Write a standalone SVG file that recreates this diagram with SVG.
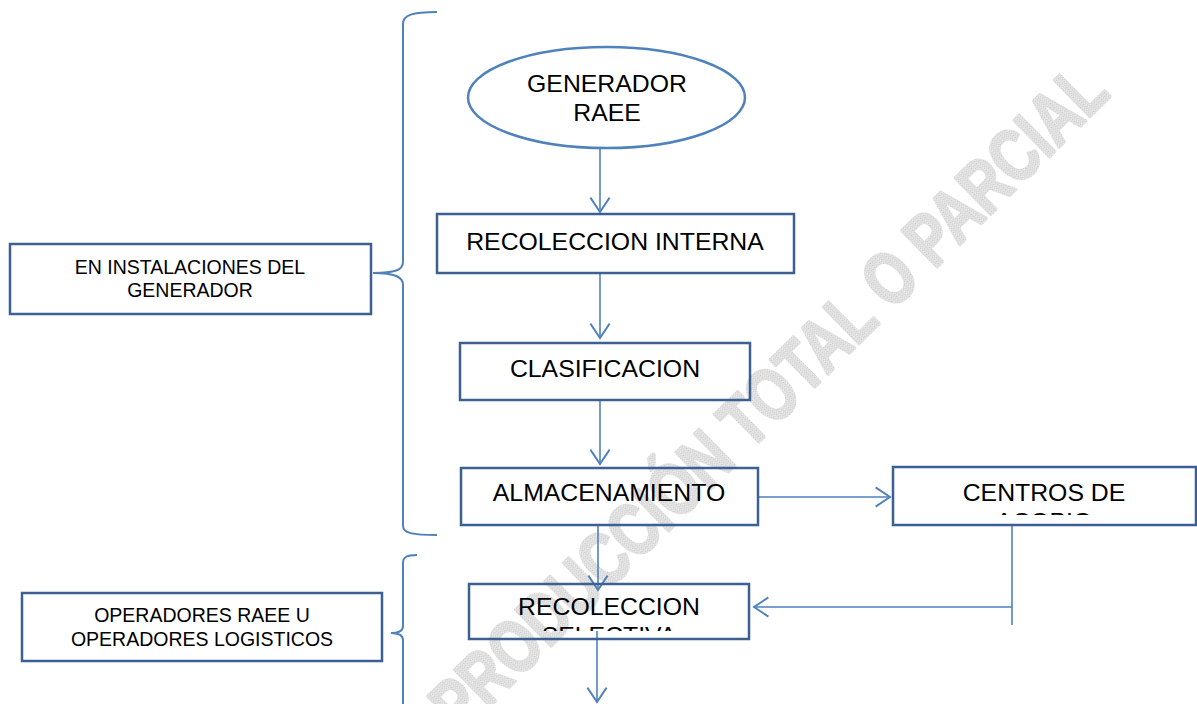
<svg xmlns="http://www.w3.org/2000/svg" width="1197" height="704" viewBox="0 0 1197 704">
  <style>
    .box { fill: none; stroke: #3B6091; stroke-width: 2.5; }
    .ell { fill: none; stroke: #4F81BD; stroke-width: 2.5; }
    .con { fill: none; stroke: #4F81BD; stroke-width: 1.6; }
    .brace { fill: none; stroke: #4F81BD; stroke-width: 2; }
    .big { font-family: "Liberation Sans", Arial, sans-serif; font-size: 24.8px; fill: #000; text-anchor: middle; }
    .small { font-family: "Liberation Sans", Arial, sans-serif; font-size: 19.5px; fill: #000; text-anchor: middle; }
    .wm { font-family: "Liberation Sans", Arial, sans-serif; font-size: 74px; font-weight: bold; fill: url(#hatch); stroke: url(#hatch); stroke-width: 3; stroke-linejoin: round; text-anchor: middle; }
  </style>
  <defs>
    <pattern id="hatch" width="3" height="3" patternUnits="userSpaceOnUse">
      <rect width="3" height="3" fill="#eeeeee"/>
      <rect width="1.5" height="1.5" fill="#c9c9c9"/>
      <rect x="1.5" y="1.5" width="1.5" height="1.5" fill="#d8d8d8"/>
    </pattern>
    <marker id="arr" markerUnits="userSpaceOnUse" markerWidth="24" markerHeight="24" viewBox="-14 -10 16 20" refX="0" refY="0" orient="auto">
      <path d="M-12,-8 L0,0 L-12,8" fill="none" stroke="#4F81BD" stroke-width="1.6"/>
    </marker>
    <clipPath id="clipCentros"><rect x="893" y="467" width="304" height="48"/></clipPath>
    <clipPath id="clipSel"><rect x="469" y="584" width="280" height="47"/></clipPath>
  </defs>

  <g id="watermark">
    <text class="wm" x="0" y="0" dominant-baseline="central" transform="translate(768 397) rotate(-44.5) scale(0.77 1)">PRODUCCIÓN TOTAL O PARCIAL</text>
  </g>

  <g id="braces">
    <path class="brace" d="M437,12 C412,12 403,15 403,24 L403,262 C403,270 395,273 373,273 C395,273 403,277 403,285 L403,526 C403,533 412,535 437,535"/>
    <path class="brace" d="M417,555 C407,555 403,557 403,563 L403,626 C403,630 399,633 391,633 C399,633 403,636 403,640 L403,704"/>
  </g>

  <g id="connectors">
    <line class="con" x1="600" y1="148" x2="600" y2="212" marker-end="url(#arr)"/>
    <line class="con" x1="600" y1="274" x2="600" y2="338" marker-end="url(#arr)"/>
    <line class="con" x1="600" y1="401" x2="600" y2="464" marker-end="url(#arr)"/>
    <line class="con" x1="758" y1="497" x2="890" y2="497" marker-end="url(#arr)"/>
    <line class="con" x1="598" y1="526" x2="598" y2="590" marker-end="url(#arr)"/>
    <line class="con" x1="1012" y1="525" x2="1012" y2="625"/>
    <line class="con" x1="1012" y1="607" x2="754" y2="607" marker-end="url(#arr)"/>
    <line class="con" x1="597" y1="631" x2="597" y2="702" marker-end="url(#arr)"/>
  </g>

  <g id="generador">
    <ellipse class="ell" cx="606.5" cy="97.5" rx="138.5" ry="50.5"/>
    <text class="big" x="607" y="92">GENERADOR</text>
    <text class="big" x="607" y="121">RAEE</text>
  </g>

  <g id="recoleccion-interna">
    <rect class="box" x="437" y="214" width="357" height="59"/>
    <text class="big" x="615" y="250">RECOLECCION INTERNA</text>
  </g>

  <g id="clasificacion">
    <rect class="box" x="460" y="343" width="290" height="57"/>
    <text class="big" x="605" y="377">CLASIFICACION</text>
  </g>

  <g id="almacenamiento">
    <rect class="box" x="461" y="468" width="297" height="57"/>
    <text class="big" x="609" y="501">ALMACENAMIENTO</text>
  </g>

  <g id="centros-acopio">
    <rect class="box" x="893" y="467" width="303" height="58"/>
    <g clip-path="url(#clipCentros)">
      <text class="big" x="1044" y="501">CENTROS DE</text>
      <text class="big" x="1044" y="530">ACOPIO</text>
    </g>
  </g>

  <g id="recoleccion-selectiva">
    <rect class="box" x="469" y="584" width="280" height="55"/>
    <g clip-path="url(#clipSel)">
      <text class="big" x="609" y="615">RECOLECCION</text>
      <text class="big" x="609" y="644">SELECTIVA</text>
    </g>
  </g>

  <g id="en-instalaciones">
    <rect class="box" x="10" y="244" width="361" height="70"/>
    <text class="small" x="190" y="274">EN INSTALACIONES DEL</text>
    <text class="small" x="190" y="297">GENERADOR</text>
  </g>

  <g id="operadores">
    <rect class="box" x="22" y="593" width="360" height="68"/>
    <text class="small" x="202" y="622">OPERADORES RAEE U</text>
    <text class="small" x="202" y="646">OPERADORES LOGISTICOS</text>
  </g>
</svg>
